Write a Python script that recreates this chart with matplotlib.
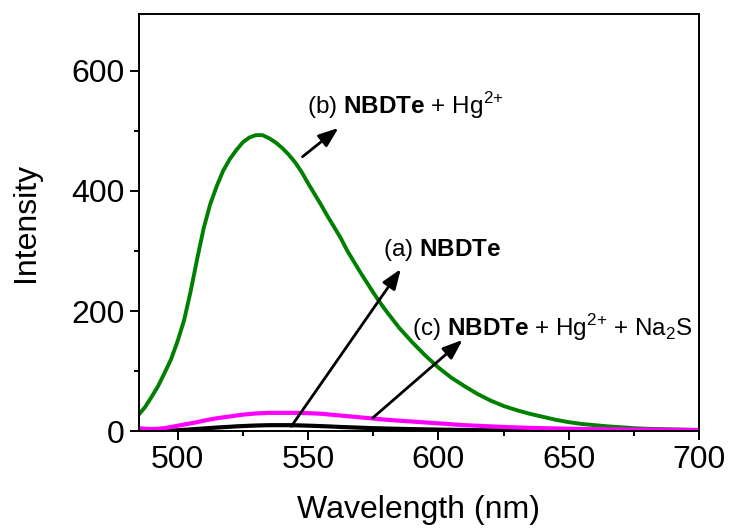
import numpy as np
import matplotlib
matplotlib.use("Agg")
import matplotlib.pyplot as plt
from matplotlib.ticker import MultipleLocator

plt.rcParams['font.family'] = ['Liberation Sans', 'DejaVu Sans']
plt.rcParams['mathtext.fontset'] = 'custom'
plt.rcParams['mathtext.rm'] = 'Liberation Sans'
plt.rcParams['mathtext.bf'] = 'Liberation Sans:bold'

# emission spectra (wavelength in nm)
wavelength = [485, 487.5, 490, 492.5, 495, 497.5, 500, 502.5, 505, 507.5,
              510, 512.5, 515, 517.5, 520, 522.5, 525, 527.5, 530, 532.5,
              535, 537.5, 540, 542.5, 545, 547.5, 550, 552.5, 555, 557.5,
              560, 562.5, 565, 567.5, 570, 572.5, 575, 577.5, 580,
              585, 590, 595, 600, 605, 610, 615, 620, 625, 630, 635, 640,
              645, 650, 655, 660, 665, 670, 675, 680, 685, 690, 695, 700]

# (b) NBDTe + Hg2+
nbdte_hg = [27, 40, 57, 75, 97, 120, 150, 185, 233, 287,
            338, 378, 408, 434, 453, 468, 481, 489, 493, 493,
            488, 481, 472, 461, 448, 432, 413, 395, 377, 358,
            340, 322, 301, 283, 265, 248, 231, 215, 200,
            172, 148, 126, 106, 89, 75, 62, 51, 42, 35, 29, 24,
            19, 15, 12, 10, 8, 6.5, 5, 4, 3.5, 3, 2.5, 2]

# (a) NBDTe
nbdte = [0, 0, 0, 0.2, 0.5, 1, 1.5, 2.2, 3, 3.8,
         4.5, 5.3, 6, 6.7, 7.3, 8, 8.5, 9, 9.4, 9.7,
         10, 10, 10, 10, 9.8, 9.5, 9.2, 8.8, 8.4, 8,
         7.5, 7, 6.6, 6.2, 5.8, 5.4, 5, 4.7, 4.4,
         3.9, 3.4, 3, 2.6, 2.3, 2, 1.7, 1.5, 1.3, 1.1, 1, 0.9,
         0.8, 0.7, 0.6, 0.5, 0.5, 0.4, 0.4, 0.3, 0.3, 0.3, 0.2, 0.2]

# (c) NBDTe + Hg2+ + Na2S
nbdte_hg_na2s = [5, 4, 3.5, 4, 5, 7, 9, 11, 13, 15,
                 17.5, 19.5, 21.5, 23, 24.5, 26, 27.5, 28.5, 29.5, 30,
                 30.5, 30.5, 30.5, 30.5, 30.5, 30.3, 30, 29.5, 29, 28,
                 27, 26, 25, 24, 23, 22, 21, 20, 19,
                 17.5, 16, 14.5, 13, 11.5, 10, 9, 8, 7, 6.2, 5.5, 5,
                 4.5, 4, 3.7, 3.4, 3.1, 2.9, 2.7, 2.5, 2.3, 2.2, 2.1, 2]

fig = plt.figure(figsize=(7.29, 5.31), dpi=100)
ax = fig.add_axes([0.19, 0.188, 0.769, 0.786])

ax.plot(wavelength, nbdte_hg, color='#008000', lw=2.8, solid_joinstyle='round')
ax.plot(wavelength, nbdte, color='black', lw=3)
ax.plot(wavelength, nbdte_hg_na2s, color='#ff00ff', lw=3)

ax.set_xlim(485, 700)
ax.set_ylim(0, 695)
ax.xaxis.set_major_locator(MultipleLocator(50))
ax.xaxis.set_minor_locator(MultipleLocator(25))
ax.yaxis.set_major_locator(MultipleLocator(200))
ax.yaxis.set_minor_locator(MultipleLocator(100))
ax.tick_params(which='both', direction='out', top=False, right=False,
               width=1.4, labelsize=23, pad=3.5)
ax.tick_params(which='major', length=6.5)
ax.tick_params(which='minor', length=3.5)
for s in ax.spines.values():
    s.set_linewidth(1.4)

ax.set_xlabel('Wavelength (nm)', fontsize=23, labelpad=14)
ax.set_ylabel('Intensity', fontsize=23, labelpad=22)

arrow = dict(arrowstyle='-|>,head_length=1.2,head_width=0.45', color='black',
             lw=2, shrinkA=0, shrinkB=0, mutation_scale=10)

# (b)
ax.annotate('', xy=(561.7, 505), xytext=(547.9, 457), arrowprops=arrow)
ax.text(549.5, 542, r'(b) $\mathbf{NBDTe}$ + Hg$^{2{+}}$', fontsize=17.5,
        va='center', ha='left')
# (a)
ax.annotate('', xy=(585.6, 270), xytext=(543.6, 8), arrowprops=arrow)
ax.text(578.6, 302, r'(a) $\mathbf{NBDTe}$', fontsize=17.5,
        va='center', ha='left')
# (c)
ax.annotate('', xy=(609.3, 152), xytext=(574.8, 22), arrowprops=arrow)
ax.text(590, 172, r'(c) $\mathbf{NBDTe}$ + Hg$^{2{+}}$ + Na$_2$S', fontsize=17.5,
        va='center', ha='left')

fig.savefig('out.png', dpi=100)
